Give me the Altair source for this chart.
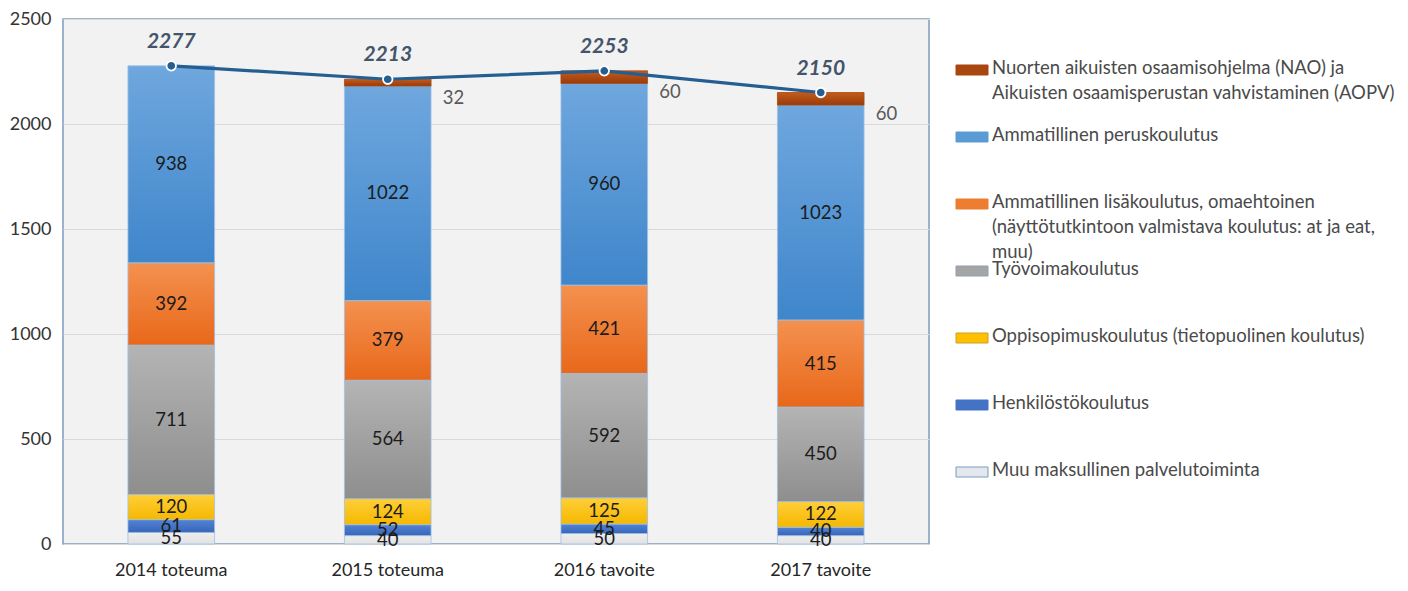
import altair as alt
import pandas as pd

# ---------------- data ----------------
years = ["2014 toteuma", "2015 toteuma", "2016 tavoite", "2017 tavoite"]

# stack order: bottom -> top
keys = ["muu", "henk", "oppi", "tyo", "lisa", "perus", "nao"]
muu = [55, 40, 50, 40]
henk = [61, 52, 45, 40]
oppi = [120, 124, 125, 122]
tyo = [711, 564, 592, 450]
lisa = [392, 379, 421, 415]
perus = [938, 1022, 960, 1023]
nao = [0, 32, 60, 60]
totals = [2277, 2213, 2253, 2150]

# legend order (top -> bottom) and texts
legend_keys = ["nao", "perus", "lisa", "tyo", "oppi", "henk", "muu"]
legend_labels = [
    "Nuorten aikuisten osaamisohjelma (NAO) ja\nAikuisten osaamisperustan vahvistaminen (AOPV)",
    "Ammatillinen peruskoulutus",
    "Ammatillinen lisäkoulutus, omaehtoinen\n(näyttötutkintoon valmistava koulutus: at ja eat,\nmuu)",
    "Työvoimakoulutus",
    "Oppisopimuskoulutus (tietopuolinen koulutus)",
    "Henkilöstökoulutus",
    "Muu maksullinen palvelutoiminta",
]

# styles (gradient top, gradient bottom, swatch colour, swatch stroke)
grad_top = {"nao": "#c45a1c", "perus": "#6fa7de", "lisa": "#f4914f", "tyo": "#b4b4b4",
            "oppi": "#ffcf3a", "henk": "#5283d4", "muu": "#eeeeee"}
grad_bot = {"nao": "#983c0b", "perus": "#3f86cb", "lisa": "#e8681a", "tyo": "#8e8e8e",
            "oppi": "#f5b800", "henk": "#3866b8", "muu": "#e2e2e2"}
swatch = {"nao": "#a8470f", "perus": "#5b9bd5", "lisa": "#ed7d31", "tyo": "#a5a5a5",
          "oppi": "#ffc000", "henk": "#4472c4", "muu": "#e4e8ee"}
swatch_stroke = {"nao": "#a8470f", "perus": "#5b9bd5", "lisa": "#ed7d31", "tyo": "#8fa0b4",
                 "oppi": "#c9a030", "henk": "#4472c4", "muu": "#7f9cbf"}

series_vals = {"muu": muu, "henk": henk, "oppi": oppi, "tyo": tyo,
               "lisa": lisa, "perus": perus, "nao": nao}

rows = []
for order, k in enumerate(keys):
    for yi, yr in enumerate(years):
        rows.append({"year": yr, "key": k, "order": order, "value": series_vals[k][yi]})
df = pd.DataFrame(rows)
tot_df = pd.DataFrame({"year": years, "total": totals})
leg_df = pd.DataFrame({"key": legend_keys, "label": legend_labels})

FONT = "Lato"

x_enc = alt.X("year:N", sort=years,
              scale=alt.Scale(paddingInner=0.6, paddingOuter=0.3),
              axis=alt.Axis(title=None, labelAngle=0, ticks=False, domain=False,
                            labelFontSize=18, labelColor="#262626", labelPadding=17,
                            grid=False))
y_scale = alt.Scale(domain=[0, 2500], nice=False)
y_enc = alt.Y("y0:Q", scale=y_scale,
              axis=alt.Axis(title=None, values=[0, 500, 1000, 1500, 2000, 2500],
                            format="d", ticks=False, domain=False, labelFontSize=18,
                            labelColor="#333333", labelPadding=12,
                            gridColor="#d9d9d9", gridWidth=1))

base = alt.Chart(df).transform_stack(
    stack="value", groupby=["year"], as_=["y0", "y1"],
    sort=[alt.SortField("order", order="ascending")]
).transform_filter("datum.value > 0")

layers = []
for k in keys:
    grad = alt.LinearGradient(
        gradient="linear",
        stops=[alt.GradientStop(color=grad_top[k], offset=0),
               alt.GradientStop(color=grad_bot[k], offset=1)],
        x1=0, x2=0, y1=0, y2=1)
    stroke_col = "#9fc0e4" if k != "nao" else "#a8470f"
    layers.append(
        base.transform_filter(alt.datum.key == k)
        .mark_bar(color=grad, stroke=stroke_col, strokeWidth=0.8)
        .encode(x=x_enc, y=y_enc, y2="y1:Q")
    )

inner_labels = base.transform_calculate(mid="(datum.y0 + datum.y1) / 2").transform_filter(
    "datum.key != 'nao'"
).mark_text(fontSize=18.5, color="#1c1c1c", font=FONT).encode(
    x=alt.X("year:N", sort=years),
    y=alt.Y("mid:Q", scale=y_scale),
    text="value:Q",
)

nao_labels = base.transform_calculate(mid="(datum.y0 + datum.y1) / 2").transform_filter(
    "datum.key == 'nao'"
).mark_text(fontSize=18.5, color="#595959", font=FONT, align="left", dx=55, dy=15).encode(
    x=alt.X("year:N", sort=years),
    y=alt.Y("mid:Q", scale=y_scale),
    text="value:Q",
)

line = alt.Chart(tot_df).mark_line(color="#255e91", strokeWidth=3.2).encode(
    x=alt.X("year:N", sort=years), y=alt.Y("total:Q", scale=y_scale))
points = alt.Chart(tot_df).mark_circle(size=90, fill="#255e91", stroke="white",
                                       strokeWidth=1.8, opacity=1).encode(
    x=alt.X("year:N", sort=years), y=alt.Y("total:Q", scale=y_scale))
tot_labels = alt.Chart(tot_df).mark_text(
    fontSize=21, fontWeight="bold", fontStyle="italic", color="#44546a", font=FONT, dy=-24
).encode(x=alt.X("year:N", sort=years), y=alt.Y("total:Q", scale=y_scale), text="total:Q")

main = alt.layer(*layers, inner_labels, nao_labels, line, points, tot_labels).properties(
    width=866, height=525,
    view=alt.ViewBackground(fill="#f2f2f2", stroke="#7f9cbf", strokeWidth=1.5),
)

# ---------------- custom legend ----------------
leg_y = alt.Y("key:N", sort=legend_keys,
              scale=alt.Scale(type="point", padding=0, range=[51, 453]), axis=None)
sw = alt.Chart(leg_df).mark_point(
    shape="M-1,-0.3125H1V0.3125H-1Z", size=1024, filled=True, opacity=1, strokeWidth=1
).encode(
    x=alt.value(16), y=leg_y,
    fill=alt.Fill("key:N", scale=alt.Scale(domain=legend_keys,
                                           range=[swatch[k] for k in legend_keys]), legend=None),
    stroke=alt.Stroke("key:N", scale=alt.Scale(domain=legend_keys,
                                               range=[swatch_stroke[k] for k in legend_keys]),
                      legend=None),
)
lt = alt.Chart(leg_df).mark_text(
    align="left", baseline="top", dy=-11, lineBreak="\n", lineHeight=25,
    fontSize=18.5, color="#4a4a4a", font=FONT
).encode(x=alt.value(36), y=leg_y, text="label:N")

legend = alt.layer(sw, lt).properties(
    width=430, height=525,
    view=alt.ViewBackground(fill="white", strokeWidth=0),
).resolve_scale(fill="independent", stroke="independent")

chart = alt.hconcat(main, legend, spacing=24).properties(
    padding={"left": 0, "top": 1, "right": 5, "bottom": 5}
).configure(font=FONT).configure_view(strokeWidth=0).configure_axis(labelFont=FONT)

chart.save("out.html", embed_options={"renderer": "svg", "actions": False})
